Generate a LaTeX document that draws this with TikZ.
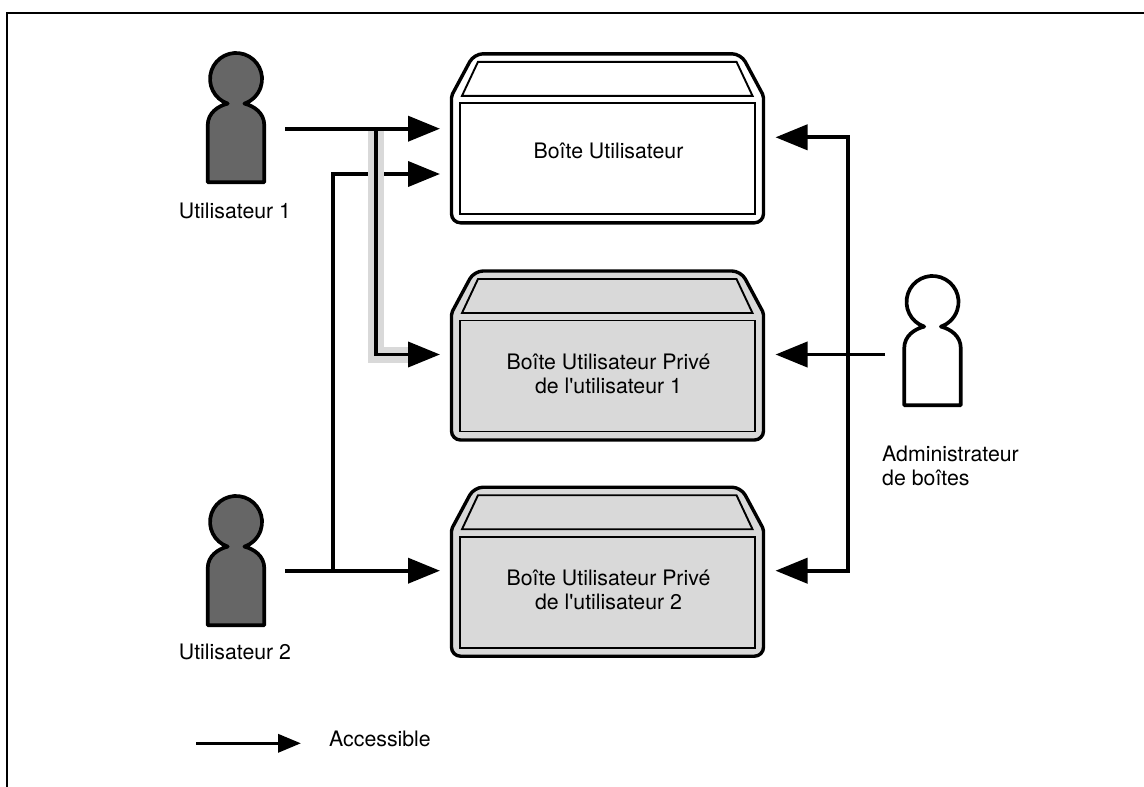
\documentclass[tikz,border=0pt]{standalone}
\usepackage{fontspec}
\setmainfont{TeX Gyre Heros}
\usetikzlibrary{
        arrows.meta,
        positioning
    }
\definecolor{boxgray}{HTML}{D9D9D9}
\definecolor{usergray}{HTML}{666666}
\tikzset{
    flux/.style={line width=3.9pt,-{Triangle[length=32pt,width=25pt]}},
    lbl/.style={font=\fontsize{21.3}{24}\selectfont,inner sep=0pt,align=center},
    pics/person/.style={code={
        \draw[line width=3.7pt,line join=round,pic actions] (-8.3,24.6) arc[start angle=251.3,end angle=-71.3,radius=26pt]
            .. controls (18,27) and (28.25,34) .. (28.25,46) -- (28.25,103.3) -- (-28.25,103.3) -- (-28.25,46)
            .. controls (-28.25,34) and (-18,27) .. cycle;
    }},
    pics/boite/.style={code={
        \draw[line width=3.4pt,pic actions,rounded corners=9pt] (-156,20) -- (-156,64) -- (156,64)
            [rounded corners=2pt] -- (156,-63)
            [rounded corners=9pt] -- (133.5,-105) -- (-133.5,-105)
            [rounded corners=2pt] -- (-156,-63) -- cycle;
        \draw[line width=1.9pt] (-145.5,-63) -- (-129.5,-97) -- (129,-97) -- (145,-63) -- cycle;
        \node[draw,line width=1.9pt,minimum width=295pt,minimum height=111pt,inner sep=0pt] (-body) at (0,0) {};
        \coordinate (-w) at (-167.5,-21.5);
        \coordinate (-e) at (168,-21.5);
    }}
}

\begin{document}
\begin{tikzpicture}[x=1pt,y=-1pt]
    \useasboundingbox (0,0) rectangle (1144,787);
    \draw[line width=2.6pt] (7,787) -- (7,13) -- (1144,13);

    % users and administrator
    \pic[fill=usergray] (u1) at (236,79) {person};
    \pic[fill=usergray] (u2) at (236,522) {person};
    \pic[fill=white] (adm) at (932.5,302) {person};
    \coordinate (u1out) at (285,128.7);
    \coordinate (u2out) at (285,570.7);
    \coordinate (admout) at (885,354.5);

    % boxes
    \pic[fill=white] (b1) at (607.5,158.8) {boite};
    \pic[fill=boxgray] (b2) at (607.5,376) {boite};
    \pic[fill=boxgray] (b3) at (607.5,592.2) {boite};

    \node[lbl] (t1) at (608.5,151) {Boîte Utilisateur};
    \node[lbl] (t2) at (608.5,374) {Boîte Utilisateur Privé\\de l\textquotesingle utilisateur 1};
    \node[lbl] (t3) at (608.5,590) {Boîte Utilisateur Privé\\de l\textquotesingle utilisateur 2};
    \node[lbl] (l1) at (235,211) {Utilisateur 1};
    \node[lbl] (l2) at (235,652) {Utilisateur 2};
    \node[lbl,align=left,anchor=north west] (l3) at (882,446) {Administrateur\\de boîtes};

    % junctions
    \coordinate (j1) at (376,128.7);
    \coordinate (j2) at (332.7,570.7);
    \coordinate (k2) at (332.7,174);
    \coordinate (bus) at (848.3,354.5);

    % connectors
    \draw[flux] (u2out) -- (u2out -| b3-w);
    \draw[flux] (j2) -- (k2) -- (k2 -| b1-w);
    \draw[boxgray,line width=16pt] (376,131) -- (376,354.7) -- (408,354.7);
    \draw[flux] (u1out) -- (u1out -| b1-w);
    \draw[flux] (j1) |- (b2-w);
    \draw[flux] (admout) -- (b2-e);
    \draw[flux,{Triangle[length=32pt,width=25pt]}-{Triangle[length=32pt,width=25pt]}] (b1-e) -- (b1-e -| bus) -- (b3-e -| bus) -- (b3-e);

    % legend
    \coordinate (lega) at (196,743.3);
    \node[lbl,anchor=west] (leg) at (329,738.5) {Accessible};
    \draw[line width=3.6pt,-{Triangle[length=23pt,width=18pt]}] (lega) -- ++(105,0);
\end{tikzpicture}
\end{document}
